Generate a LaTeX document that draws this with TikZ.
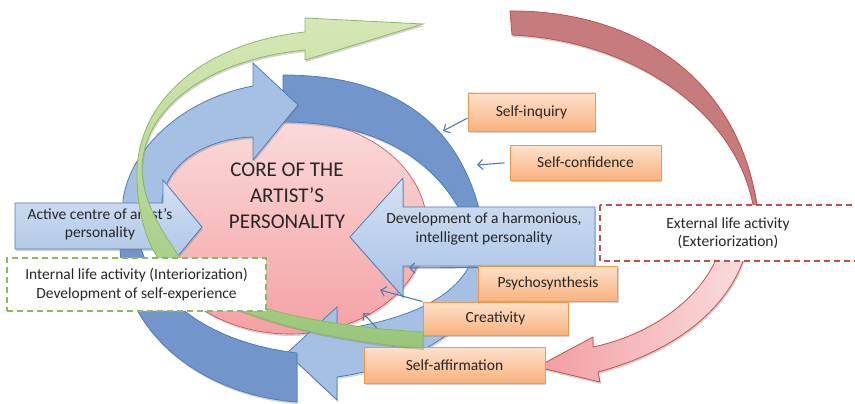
\documentclass[tikz,border=0pt]{standalone}
\usepackage{fontspec}
\setmainfont{Carlito}
\usetikzlibrary{arrows.meta,shadows}

\definecolor{coreTop}{HTML}{FBDADA}
\definecolor{coreBot}{HTML}{F4A1A4}
\definecolor{redLine}{HTML}{C0504D}
\definecolor{redArc}{HTML}{C67B7C}
\definecolor{pinkDark}{HTML}{F29CA1}
\definecolor{pinkPale}{HTML}{FADCDD}
\definecolor{bLine}{HTML}{4A7EBB}
\definecolor{bDark}{HTML}{7295CB}
\definecolor{bLight}{HTML}{A6C0E4}
\definecolor{boxTop}{HTML}{D5E2F3}
\definecolor{boxBot}{HTML}{A7C1E5}
\definecolor{gTop}{HTML}{D6E8B5}
\definecolor{gBot}{HTML}{98C67C}
\definecolor{gLine}{HTML}{8DB85F}
\definecolor{orTop}{HTML}{FDE1CC}
\definecolor{orBot}{HTML}{F9B27E}
\definecolor{orLine}{HTML}{F79646}
\definecolor{ink}{HTML}{262626}

\begin{document}
\begin{tikzpicture}[x=1pt, y=-1pt,
  shadowed/.style={drop shadow={opacity=.35, shadow xshift=1pt, shadow yshift=-2pt}},
  band/.style={draw=bLine, line width=.8pt, shadowed},
  words/.style={font=\fontsize{15.5}{18.5}\selectfont, align=center, text=ink, inner sep=0pt},
  orbox/.style={draw=orLine, line width=.9pt, top color=orTop, bottom color=orBot,
    inner sep=0pt, words, shadowed},
  dashbox/.style={line width=1.2pt, dash pattern=on 6pt off 4pt, fill=white},
  link/.style={draw=bLine, line width=1.1pt, -{Straight Barb[length=5pt, width=10pt]}}]
  \useasboundingbox (0,0) rectangle (855,404);

  % core of the personality
  \draw[redLine, line width=.6pt, top color=coreTop, bottom color=coreBot, shadowed]
    (290,227) ellipse [x radius=137, y radius=107];
  \node[font=\fontsize{21}{26}\selectfont, align=center, text=ink] (core) at (287,196)
    {CORE OF THE\\ARTIST’S\\PERSONALITY};

  % circular arrows
  \draw[band, fill=bDark] (283,75) .. controls (390,75) and (465,120) .. (484,232)
    -- (470,232) .. controls (440,155) and (370,122) .. (283,122) -- cycle;
  \draw[band, fill=bLight] (477,240) .. controls (472,290) and (420,318) .. (337,330)
    -- (337,307) -- (287,353) -- (337,400) -- (337,377)
    .. controls (420,365) and (495,320) .. (500,240) -- cycle;
  \draw[band, fill=bDark] (120,240) .. controls (118,330) and (200,395) .. (297,402)
    -- (297,353) .. controls (230,345) and (160,315) .. (140,245) -- cycle;
  \draw[band, fill=bLight] (122,240) -- (123,200) .. controls (130,150) and (180,100) .. (253,86)
    -- (253,63) -- (298,105) -- (253,160) -- (253,137)
    .. controls (210,138) and (168,160) .. (162,200) -- (162,240) -- cycle;

  % outer life arrow
  \draw[redLine, line width=.8pt, fill=redArc, shadowed]
    (510,11) .. controls (620,10) and (735,65) .. (757,205)
    -- (753,205) .. controls (735,110) and (630,40) .. (512,35) -- cycle;
  \draw[redLine, line width=.8pt, left color=pinkDark, right color=pinkPale, shadowed]
    (745,255) .. controls (730,305) and (680,350) .. (598,372) -- (600,382) -- (537,367)
    -- (593,337) -- (593,347) .. controls (650,335) and (700,300) .. (718,255) -- cycle;

  % block arrows
  \draw[band, top color=boxTop, bottom color=boxBot]
    (595,207) -- (403,207) -- (403,178) -- (350,237) -- (403,297) -- (403,266) -- (595,266) -- cycle;
  \node[words] (harmony) at (484,229) {Development of a harmonious,\\intelligent personality};
  \draw[band, top color=boxTop, bottom color=boxBot]
    (15,203) -- (163,203) -- (163,180) -- (202,227) -- (163,274) -- (163,249) -- (15,249) -- cycle;
  \node[words] (centre) at (100,224.5) {Active centre of artist’s\\personality};

  % qualities
  \node[orbox, minimum width=127pt, minimum height=38pt] (inquiry) at (531.5,112) {Self-inquiry};
  \node[orbox, minimum width=151pt, minimum height=35pt] (confidence) at (585.5,162.5) {Self-confidence};
  \node[orbox, minimum width=139pt, minimum height=35pt] (psycho) at (548,283.5) {Psychosynthesis};
  \node[orbox, minimum width=145pt, minimum height=33pt] (creative) at (495.5,318.5) {Creativity};
  \node[orbox, minimum width=181pt, minimum height=36pt] (affirm) at (454.5,365) {Self-affirmation};

  \coordinate (tInq) at (443,131);
  \coordinate (tConf) at (477,165);
  \coordinate (tPsy) at (409,268);
  \coordinate (tCre) at (380,290);
  \coordinate (tAff) at (363,313);
  \draw[link] ([yshift=-6pt]inquiry.west) -- (tInq);
  \draw[link, shorten <=5pt] (confidence.west) -- (tConf);
  \draw[link] ([yshift=-2pt]psycho.north west) -- (tPsy);
  \draw[link] (creative.north west) -- (tCre);
  \draw[link] ([xshift=30pt]affirm.north west) -- (tAff);

  % inner life arrow
  \draw[gLine, line width=.8pt, top color=gTop, bottom color=gBot, shadowed]
    (305,32) .. controls (210,42) and (140,95) .. (137,170)
    .. controls (136,205) and (145,240) .. (158,258)
    .. controls (185,300) and (300,340) .. (423,348) -- (423,332)
    .. controls (300,325) and (205,300) .. (180,258)
    .. controls (165,235) and (143,205) .. (142,170)
    .. controls (142,110) and (205,60) .. (305,50)
    -- (305,60) -- (423,24) -- (305,18) -- cycle;

  \node[words, dashbox, draw=gLine, minimum width=259pt, minimum height=53pt] (interior)
    at (136.5,284.5) {Internal life activity (Interiorization)\\Development of self-experience};
  \draw[dashbox, draw=redLine] (600,205) rectangle (870,261);
  \node[words] (exterior) at (728,233) {External life activity\\(Exteriorization)};
\end{tikzpicture}
\end{document}
